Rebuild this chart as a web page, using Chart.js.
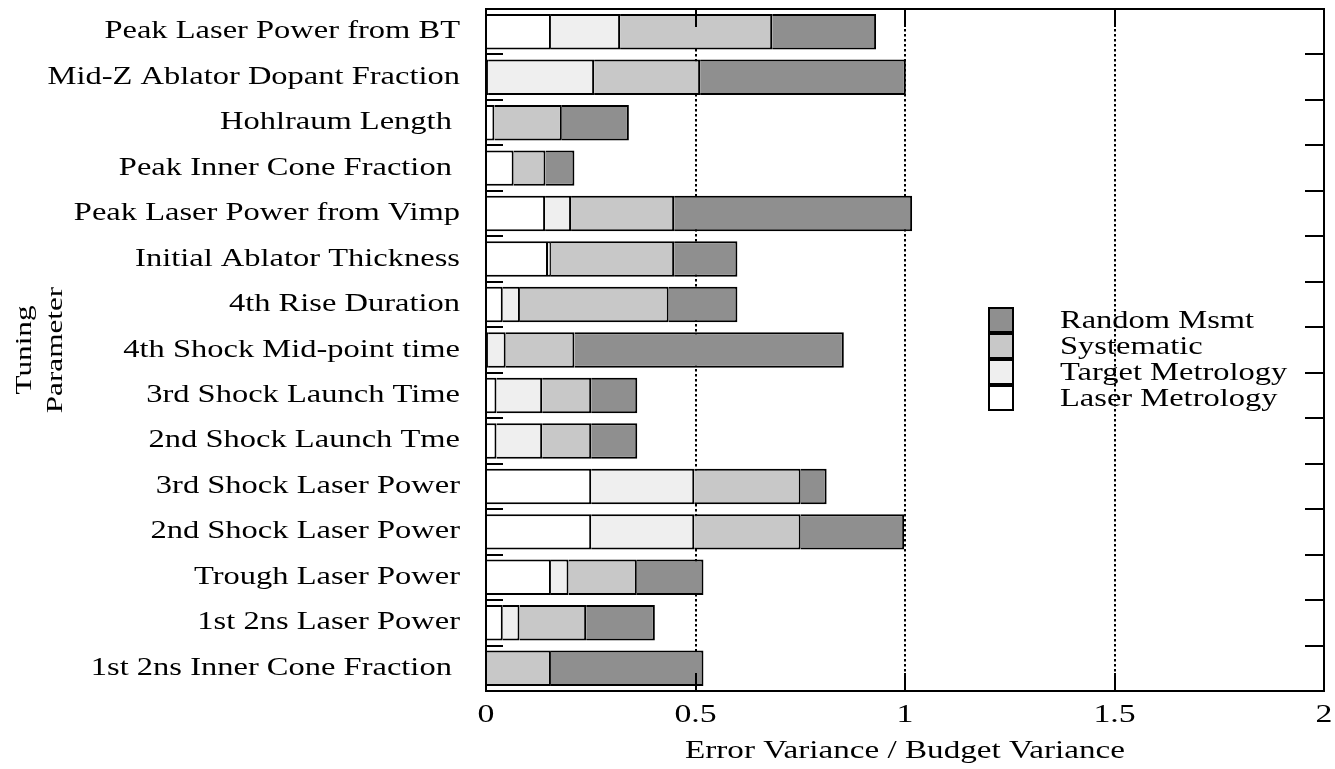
<!DOCTYPE html>
<html>
<head>
<meta charset="utf-8">
<script src="https://cdn.jsdelivr.net/npm/chart.js@4/dist/chart.umd.min.js"></script>
<style>
  html, body { margin: 0; padding: 0; background: #fff; }
  #wrap { width: 1335px; height: 769px; position: relative; }
</style>
</head>
<body>
<div id="wrap"><canvas id="c"></canvas></div>
<script>
// ---------------- data ----------------
const categories = [
  "Peak Laser Power from BT",
  "Mid-Z Ablator Dopant Fraction",
  "Hohlraum Length ",
  "Peak Inner Cone Fraction ",
  "Peak Laser Power from Vimp",
  "Initial Ablator Thickness",
  "4th Rise Duration",
  "4th Shock Mid-point time",
  "3rd Shock Launch Time",
  "2nd Shock Launch Tme",
  "3rd Shock Laser Power",
  "2nd Shock Laser Power",
  "Trough Laser Power",
  "1st 2ns Laser Power",
  "1st 2ns Inner Cone Fraction "
];
const laserMetrology  = [0.155, 0.005, 0.020, 0.066, 0.141, 0.148, 0.040, 0.005, 0.025, 0.025, 0.251, 0.251, 0.155, 0.040, 0.000];
const targetMetrology = [0.165, 0.253, 0.000, 0.000, 0.062, 0.007, 0.041, 0.042, 0.109, 0.109, 0.246, 0.246, 0.042, 0.040, 0.000];
const systematic      = [0.363, 0.253, 0.161, 0.076, 0.246, 0.294, 0.355, 0.164, 0.117, 0.117, 0.254, 0.254, 0.163, 0.159, 0.155];
const randomMsmt      = [0.248, 0.491, 0.160, 0.069, 0.568, 0.151, 0.164, 0.643, 0.110, 0.110, 0.062, 0.247, 0.159, 0.164, 0.364];
const xTickValues = [0, 0.5, 1, 1.5, 2];
const xTickLabels = ["0", "0.5", "1", "1.5", "2"];
const seriesNames = ["Laser Metrology", "Target Metrology", "Systematic", "Random Msmt"];
const seriesColors = ["#ffffff", "#efefef", "#c8c8c8", "#8f8f8f"];

// ---------------- text stretch (reference font is horizontally wide) ----------------
const SX = 1.3;
const canvas = document.getElementById('c');
const ctx0 = canvas.getContext('2d');
const origFill = ctx0.fillText.bind(ctx0);
const origMeasure = ctx0.measureText.bind(ctx0);
ctx0.fillText = function (t, x, y, mw) {
  this.save();
  this.translate(x, y);
  this.scale(SX, 1);
  if (mw === undefined || mw === null) origFill(t, 0, 0);
  else origFill(t, 0, 0, mw / SX);
  this.restore();
};
ctx0.measureText = function (t) {
  const m = origMeasure(t);
  return {
    width: m.width * SX,
    actualBoundingBoxAscent: m.actualBoundingBoxAscent,
    actualBoundingBoxDescent: m.actualBoundingBoxDescent,
    actualBoundingBoxLeft: m.actualBoundingBoxLeft * SX,
    actualBoundingBoxRight: m.actualBoundingBoxRight * SX,
    fontBoundingBoxAscent: m.fontBoundingBoxAscent,
    fontBoundingBoxDescent: m.fontBoundingBoxDescent
  };
};

const FONT = "'Liberation Serif', 'Times New Roman', serif";

// ---------------- plugins ----------------
const framePlugin = {
  id: 'frame',
  beforeDatasetsDraw(chart) {
    const { ctx, chartArea: a, scales: { x } } = chart;
    ctx.save();
    ctx.strokeStyle = '#000';
    ctx.lineWidth = 2;
    ctx.setLineDash([2.5, 2.5]);
    x.ticks.forEach(t => {
      if (t.value > x.min && t.value < x.max) {
        const px = Math.round(x.getPixelForValue(t.value));
        ctx.beginPath();
        ctx.moveTo(px, a.top);
        ctx.lineTo(px, a.bottom);
        ctx.stroke();
      }
    });
    ctx.restore();
  },
  afterDraw(chart) {
    const { ctx, chartArea: a, scales: { x, y } } = chart;
    ctx.save();
    ctx.strokeStyle = '#000';
    ctx.lineWidth = 2;
    ctx.setLineDash([]);
    ctx.strokeRect(a.left, a.top, a.right - a.left, a.bottom - a.top);
    // top & bottom tick marks
    const tl = 18;
    x.ticks.forEach(t => {
      if (t.value > x.min && t.value < x.max) {
        const px = Math.round(x.getPixelForValue(t.value));
        ctx.beginPath();
        ctx.moveTo(px, a.top); ctx.lineTo(px, a.top + tl);
        ctx.moveTo(px, a.bottom); ctx.lineTo(px, a.bottom - tl);
        ctx.stroke();
      }
    });
    // left & right tick marks at category boundaries
    for (let i = 0; i < categories.length - 1; i++) {
      const py = Math.round((y.getPixelForValue(i) + y.getPixelForValue(i + 1)) / 2);
      ctx.beginPath();
      ctx.moveTo(a.left, py); ctx.lineTo(a.left + 17, py);
      ctx.moveTo(a.right, py); ctx.lineTo(a.right - 19, py);
      ctx.stroke();
    }
    // legend (reverse order, stacked boxes)
    const ds = chart.data.datasets.slice().reverse();
    const bx = 988, by = 307, bs = 26;
    ctx.font = "25px " + FONT;
    ctx.textAlign = 'left';
    ctx.textBaseline = 'middle';
    ds.forEach((d, i) => {
      const top = by + i * bs;
      ctx.fillStyle = d.backgroundColor;
      ctx.fillRect(bx, top, bs, bs);
      ctx.strokeStyle = '#000';
      ctx.lineWidth = 2;
      ctx.strokeRect(bx + 1, top + 1, bs - 2, bs - 2);
      ctx.fillStyle = '#000';
      ctx.fillText(d.label, 1060, top + bs / 2 + 1);
    });
    ctx.restore();
  }
};

// ---------------- chart ----------------
const seriesData = [laserMetrology, targetMetrology, systematic, randomMsmt];
const datasets = seriesNames.map((name, i) => ({
  label: name,
  data: seriesData[i],
  backgroundColor: seriesColors[i],
  borderColor: '#000',
  borderWidth: 2,
  borderSkipped: 'start',
  barPercentage: 0.78,
  categoryPercentage: 1.0
}));

new Chart(canvas, {
  type: 'bar',
  data: { labels: categories, datasets },
  options: {
    indexAxis: 'y',
    responsive: true,
    maintainAspectRatio: false,
    animation: false,
    layout: { padding: { top: 9, right: 11, bottom: 0, left: 0 } },
    plugins: {
      legend: { display: false },
      tooltip: { enabled: false }
    },
    scales: {
      x: {
        type: 'linear',
        stacked: true,
        min: 0,
        max: 2,
        afterBuildTicks: (s) => { s.ticks = xTickValues.map(v => ({ value: v })); },
        afterFit: (s) => { s.height = 78; s.paddingLeft = 0; s.paddingRight = 0; },
        grid: { display: false, drawTicks: false },
        border: { display: false },
        ticks: {
          padding: 9,
          color: '#000',
          font: { family: FONT, size: 26 },
          callback: (v) => {
            const i = xTickValues.indexOf(v);
            return i >= 0 ? xTickLabels[i] : '';
          }
        },
        title: {
          display: true,
          text: 'Error Variance / Budget Variance',
          color: '#000',
          font: { family: FONT, size: 25.5 },
          padding: { top: 0, bottom: 2 }
        }
      },
      y: {
        type: 'category',
        stacked: true,
        offset: true,
        afterFit: (s) => { s.width = 486; s.paddingTop = 0; s.paddingBottom = 0; },
        grid: { display: false, drawTicks: false },
        border: { display: false },
        ticks: {
          padding: 26,
          color: '#000',
          font: { family: FONT, size: 25 },
          autoSkip: false
        },
        title: {
          display: true,
          text: ['Tuning', 'Parameter'],
          color: '#000',
          font: { family: FONT, size: 24, lineHeight: 1.3 },
          padding: { top: 9, bottom: 0 }
        }
      }
    }
  },
  plugins: [framePlugin]
});
</script>
</body>
</html>
